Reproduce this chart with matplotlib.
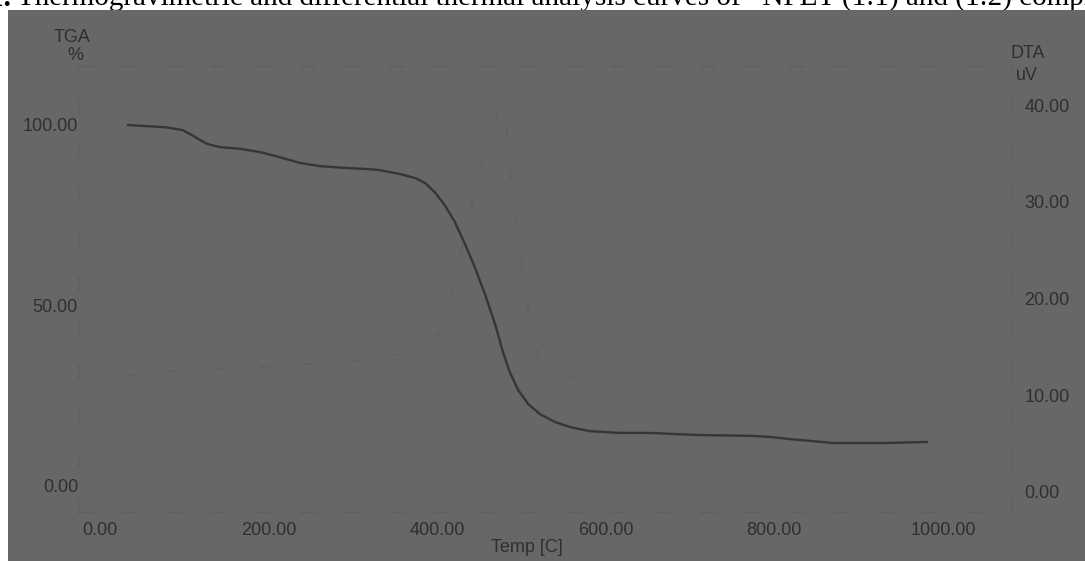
import matplotlib
matplotlib.use("Agg")
import matplotlib.pyplot as plt
from matplotlib.patches import Rectangle

# ---------------- data ----------------
temp_ticks = [0, 200, 400, 600, 800, 1000]
temp_tick_labels = ["0.00", "200.00", "400.00", "600.00", "800.00", "1000.00"]
tga_ticks = [0, 50, 100]
tga_tick_labels = ["0.00", "50.00", "100.00"]
dta_ticks = [0, 10, 20, 30, 40]
dta_tick_labels = ["0.00", "10.00", "20.00", "30.00", "40.00"]

tga_temp = [33, 53, 77, 98, 109, 119, 128, 142, 166, 190, 213, 237, 261, 291,
            317, 332, 356, 374, 386, 397, 409, 421, 433, 445, 457, 469, 478,
            486, 496, 508, 522, 540, 558, 581, 617, 652, 712, 771, 795, 818,
            842, 870, 929, 981]
tga_mass = [100.0, 99.7, 99.4, 98.6, 97.2, 95.8, 94.7, 93.9, 93.4, 92.5, 91.1,
            89.5, 88.6, 88.1, 87.8, 87.5, 86.4, 85.3, 83.9, 81.4, 77.8, 73.1,
            67.0, 60.4, 52.9, 44.6, 37.1, 31.6, 26.6, 22.7, 19.9, 17.7, 16.3,
            15.2, 14.7, 14.7, 14.1, 13.9, 13.6, 13.0, 12.5, 11.9, 11.9, 12.2]

dta_temp = [30, 100, 200, 300, 380, 409, 418, 445, 457, 474, 480, 490, 495,
            506, 520, 540, 600]
dta_uv = [12.0, 12.6, 13.0, 13.5, 14.5, 17.1, 20.9, 31.2, 35.7, 39.5, 40.2,
          29.1, 27.8, 19.8, 14.0, 12.0, 11.5]

caption_bold = "Figure 1."
caption = ("Thermogravimetric and differential thermal analysis curves of   "
           "NPET (1:1) and (1:2) complexes")

# ---------------- layout ----------------
W, H = 1085, 561
BG = "#676767"
INK = "#2f2f2f"
FAINT = "#606060"


def fx(px):
    return px / W


def fy(py):
    return 1 - py / H


fig = plt.figure(figsize=(W / 100, H / 100), dpi=100)
fig.patch.set_facecolor("white")

# caption (cut off by the scan)
fig.text(fx(11), fy(6), caption_bold, ha="right", va="baseline",
         family="Liberation Serif", fontsize=21, weight="bold",
         color="black", zorder=0.2)
fig.text(fx(17), fy(6), caption, ha="left", va="baseline",
         family="Liberation Serif", fontsize=21, color="black", zorder=0.2)

# grey scanned area
fig.add_artist(Rectangle((fx(8), 0), 1 - fx(8), fy(10), transform=fig.transFigure,
                         facecolor=BG, edgecolor="none", zorder=0.5))

# axes box (pixel bounds of the faint frame)
L, R, T, B = 78, 1012, 66, 512
ax = fig.add_axes([fx(L), fy(B), (R - L) / W, (B - T) / H], zorder=1)
ax.set_facecolor("none")

x_px0, x_scale = 100, 0.843
ax.set_xlim((L - x_px0) / x_scale, (R - x_px0) / x_scale)
tga_px0, tga_scale = 486, 3.61
ax.set_ylim((tga_px0 - B) / tga_scale, (tga_px0 - T) / tga_scale)

ax2 = ax.twinx()
ax2.set_zorder(1)
ax2.set_facecolor("none")
dta_px0, dta_scale = 492, 9.675
ax2.set_ylim((dta_px0 - B) / dta_scale, (dta_px0 - T) / dta_scale)

for a in (ax, ax2):
    for s in a.spines.values():
        s.set_color(FAINT)
        s.set_linewidth(1.0)
        s.set_linestyle((0, (10, 22)))

ax.set_xticks(temp_ticks, temp_tick_labels)
ax.set_yticks(tga_ticks, tga_tick_labels)
ax2.set_yticks(dta_ticks, dta_tick_labels)
ax.tick_params(axis="x", length=0, pad=7.5, labelsize=13, labelcolor=INK)
ax.tick_params(axis="y", length=0, pad=0, labelsize=13, labelcolor=INK)
ax2.tick_params(axis="y", length=0, pad=9, labelsize=13, labelcolor=INK)
for a in (ax, ax2):
    for lab in a.get_xticklabels() + a.get_yticklabels():
        lab.set_family("Liberation Sans")

# curves
ax2.plot(dta_temp, dta_uv, color="#616161", lw=1.3, ls=(0, (5, 20)))
ax.plot(tga_temp, tga_mass, color="#363636", lw=1.7, solid_capstyle="round",
        solid_joinstyle="round")

# axis titles
kw = dict(family="Liberation Sans", fontsize=13, color=INK, ha="center",
          va="center", zorder=2)
fig.text(fx(72), fy(37), "TGA", **kw)
fig.text(fx(75), fy(55), "%", **kw)
fig.text(fx(1028), fy(53), "DTA", **kw)
fig.text(fx(1027), fy(75), "uV", **kw)
fig.text(fx(527), fy(548), "Temp [C]", **kw)

fig.savefig("out.png", dpi=100, facecolor="white")
